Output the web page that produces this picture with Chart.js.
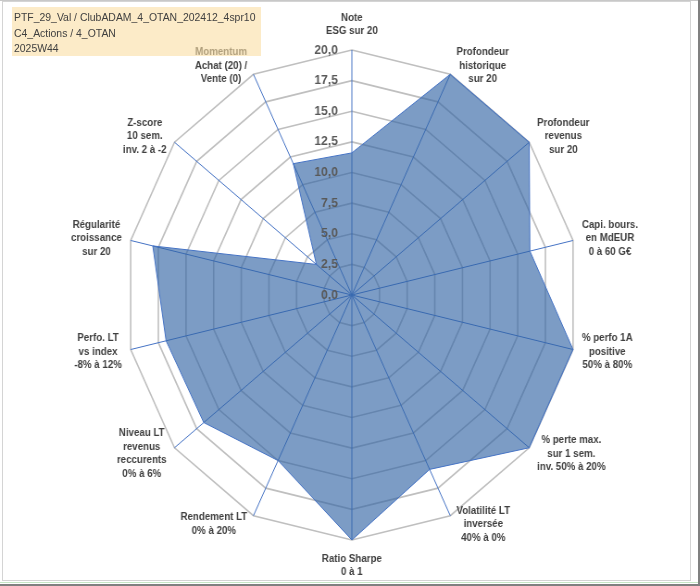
<!DOCTYPE html>
<html>
<head>
<meta charset="utf-8">
<script src="https://cdn.jsdelivr.net/npm/chart.js@4.4.1/dist/chart.umd.min.js"></script>
<style>
  html, body { margin: 0; padding: 0; background: #fff; }
  body { width: 700px; height: 586px; overflow: hidden; position: relative; }
  #frame { position: absolute; left: 2px; top: 1px; width: 687px; height: 578px; border: 1px solid #d4d4d4; }
  #topline { position: absolute; left: 0; top: 0; width: 700px; height: 1px; background: #c8c8c8; }
  #rightbar { position: absolute; left: 698px; top: 0; width: 2px; height: 586px; background: #808080; }
  #greenline { position: absolute; left: 0; top: 582px; width: 698px; height: 1px; background: #c6e6c6; }
  #bottombar { position: absolute; left: 0; top: 584px; width: 700px; height: 2px; background: #808080; }
  #wrap { position: absolute; left: 0; top: 0; width: 756px; height: 586px; transform: scaleX(0.92593); transform-origin: 0 0; }
  #title { position: absolute; left: 12px; top: 7px; width: 249px; height: 49px; background: rgba(250,222,163,0.6); }
  #title .t { position: absolute; left: 2px; top: 2px; transform: scaleX(0.9); transform-origin: 0 0; white-space: nowrap;
              font-family: "Liberation Sans", Arial, sans-serif; font-size: 11.6px; line-height: 15.5px; color: #404040; }
</style>
</head>
<body>
<div id="topline"></div>
<div id="frame"></div>
<div id="wrap"><canvas id="c"></canvas></div>
<div id="title"><div class="t">PTF_29_Val / ClubADAM_4_OTAN_202412_4spr10<br>C4_Actions / 4_OTAN<br>2025W44</div></div>
<div id="rightbar"></div>
<div id="greenline"></div>
<div id="bottombar"></div>
<script>
// ---- data ----
const categories = [
  ["Note", "ESG sur 20"],
  ["Profondeur", "historique", "sur 20"],
  ["Profondeur", "revenus", "sur 20"],
  ["Capi. bours.", "en MdEUR", "0 à 60 G€"],
  ["% perfo 1A", "positive", "50% à 80%"],
  ["% perte max.", "sur 1 sem.", "inv. 50% à 20%"],
  ["Volatilité LT", "inversée", "40% à 0%"],
  ["Ratio Sharpe", "0 à 1"],
  ["Rendement LT", "0% à 20%"],
  ["Niveau LT", "revenus", "reccurents", "0% à 6%"],
  ["Perfo. LT", "vs index", "-8% à 12%"],
  ["Régularité", "croissance", "sur 20"],
  ["Z-score", "10 sem.", "inv. 2 à -2"],
  ["Momentum", "Achat (20) /", "Vente (0)"]
];
const scores = [11.6, 20, 20, 16.1, 20, 20, 15.8, 20, 15, 16.7, 16.8, 18, 4, 11.9];
const tickMin = 0, tickMax = 20, tickStep = 2.5;

const SX = 0.92593; // horizontal squeeze of the picture

const labelPlugin = {
  id: 'customLabels',
  afterDatasetsDraw(chart) {
    const scale = chart.scales.r;
    const ctx = chart.ctx;
    ctx.save();
    // tick labels
    ctx.font = 'bold 13px "Liberation Sans", Arial, sans-serif';
    ctx.fillStyle = '#595959';
    ctx.textAlign = 'right';
    ctx.textBaseline = 'middle';
    scale.ticks.forEach(t => {
      const d = scale.getDistanceFromCenterForValue(t.value);
      ctx.fillText(t.value.toFixed(1).replace('.', ','), scale.xCenter - 14 / SX, scale.yCenter - d);
    });
    // point labels
    ctx.font = 'bold 10.5px "Liberation Sans", Arial, sans-serif';
    ctx.fillStyle = '#404040';
    ctx.textAlign = 'center';
    const lh = 13.5;
    categories.forEach((lines, i) => {
      const a = scale.getIndexAngle(i);
      const tip = scale.getPointPosition(i, scale.drawingArea);
      const s = Math.sin(a), c = Math.cos(a);
      const h = lines.length * lh;
      const w = Math.max(...lines.map(l => ctx.measureText(l).width));
      let cx, cy;
      if (Math.abs(s) < 0.01) {
        cx = tip.x;
        cy = tip.y + (c > 0 ? -(h / 2 + 12) : (h / 2 + 12));
      } else {
        const g = (4 + 5 * Math.abs(s)) / SX;
        cx = tip.x + Math.sign(s) * (w / 2 + g);
        cy = tip.y - c * 9.5;
      }
      lines.forEach((l, k) => {
        ctx.fillText(l, cx, cy - h / 2 + lh * (k + 0.5));
      });
    });
    ctx.restore();
  }
};

new Chart(document.getElementById('c'), {
  type: 'radar',
  data: {
    labels: categories,
    datasets: [{
      data: scores,
      backgroundColor: 'rgba(50,100,165,0.64)',
      borderColor: '#4472c4',
      borderWidth: 1,
      pointRadius: 0,
      pointHoverRadius: 0,
      fill: true
    }]
  },
  options: {
    responsive: true,
    maintainAspectRatio: false,
    animation: false,
    layout: { padding: { left: 135, right: 131, top: 50, bottom: 46 } },
    plugins: { legend: { display: false }, tooltip: { enabled: false } },
    elements: { line: { tension: 0 } },
    scales: {
      r: {
        min: tickMin,
        max: tickMax,
        beginAtZero: true,
        ticks: { stepSize: tickStep, display: false },
        grid: { color: '#bfbfbf', lineWidth: 1.6, circular: false },
        angleLines: { color: '#4472c4', lineWidth: 1 },
        pointLabels: { display: false }
      }
    }
  },
  plugins: [labelPlugin]
});
</script>
</body>
</html>
